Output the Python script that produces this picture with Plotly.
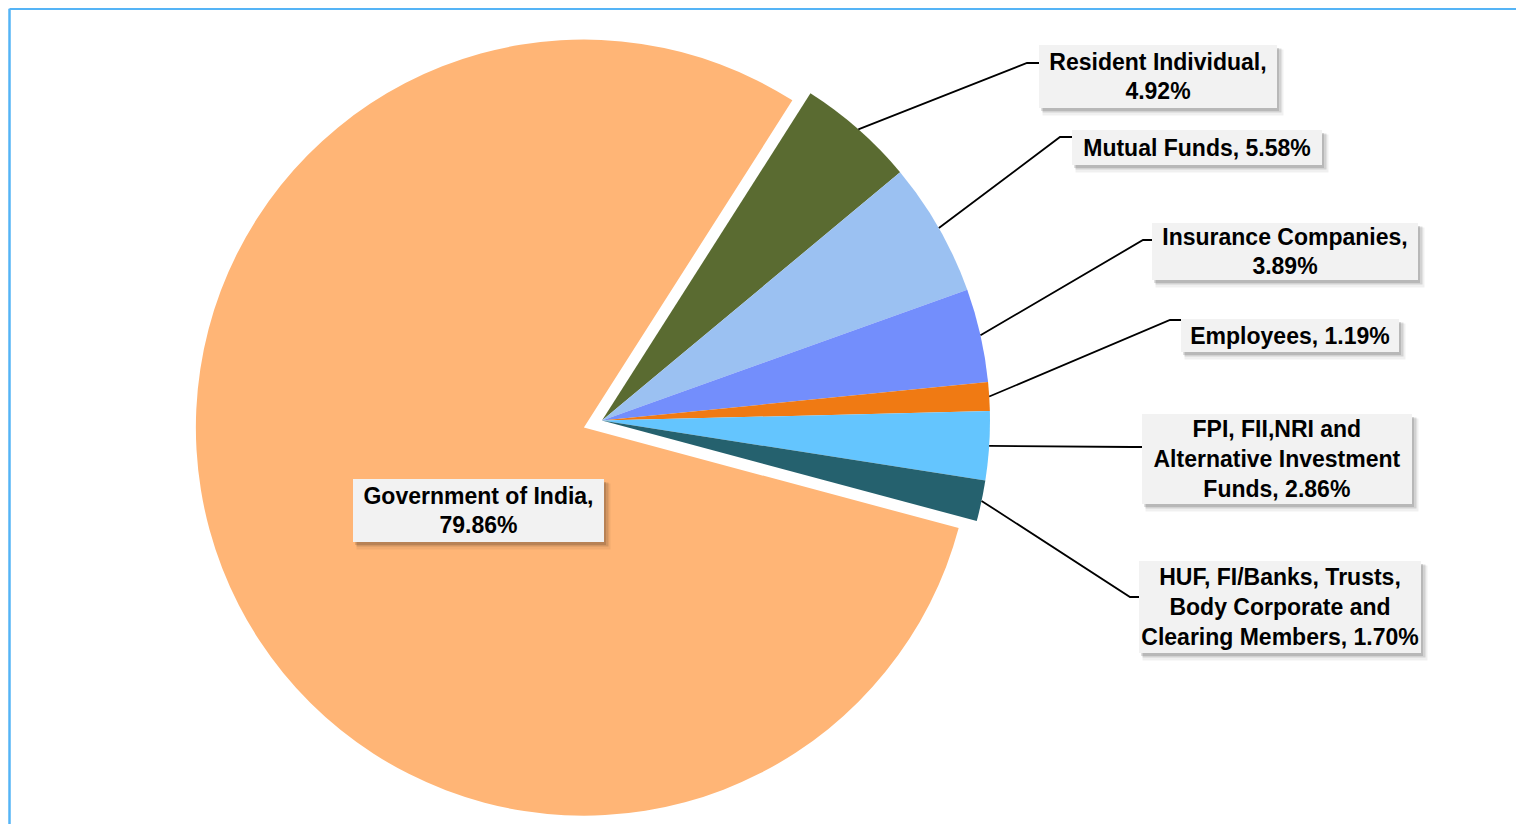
import math
import plotly.graph_objects as go

# ---------------- data ----------------
labels = [
    "Resident Individual",
    "Mutual Funds",
    "Insurance Companies",
    "Employees",
    "FPI, FII,NRI and Alternative Investment Funds",
    "HUF, FI/Banks, Trusts, Body Corporate and Clearing Members",
    "Government of India",
]
values = [4.92, 5.58, 3.89, 1.19, 2.86, 1.70, 79.86]
# label text (with the line breaks used in the chart); percentage appended from values
label_heads = [
    "Resident Individual,<br>",
    "Mutual Funds, ",
    "Insurance Companies,<br>",
    "Employees, ",
    "FPI, FII,NRI and<br>Alternative Investment<br>Funds, ",
    "HUF, FI/Banks, Trusts,<br>Body Corporate and<br>Clearing Members, ",
    "Government of India,<br>",
]
colors = ["#5A6B31", "#9BC1F2", "#738EFC", "#F07A13", "#64C5FE", "#25616E", "#FFB576"]
pulls = [0, 0, 0, 0, 0, 0, 0.05]

# ---------------- layout / geometry ----------------
OFF = 8          # page margin around the figure (screen px)
W, H = 1516, 820
dom_x = [0.0918, 0.6918]
dom_y = [0.0, 0.9937]
rotation = 32.5

# label boxes in screen pixels (centre x, centre y, box width, box height)
box_cx = [1158, 1197, 1285, 1290, 1277, 1280, 478.5]
box_cy = [76.5, 147.5, 251.5, 335.5, 459, 607, 510.5]
box_w = [238, 250, 266, 218, 270, 282, 251]
box_h = [63, 35, 57, 33, 90, 92, 63]
# leader line elbows (screen pixels) for the outside labels
elbow_x = [1027, 1060, 1143, 1170, 1132, 1130]
elbow_y = [63, 137, 240, 320, 447, 597]


def px(x):
    return (x - OFF) / W


def py(y):
    return 1 - (y - OFF) / H


fig = go.Figure()
fig.add_trace(go.Pie(
    labels=labels,
    values=values,
    sort=False,
    direction="clockwise",
    rotation=rotation,
    pull=pulls,
    marker=dict(colors=colors, line=dict(width=0)),
    textinfo="none",
    hoverinfo="label+percent",
    showlegend=False,
    domain=dict(x=dom_x, y=dom_y),
))

# pie geometry as plotly computes it (screen px)
box_wpx = W * (dom_x[1] - dom_x[0])
box_hpx = H * (dom_y[1] - dom_y[0])
r = min(box_wpx, box_hpx) / 2 / (1 + max(pulls))
cx = OFF + W * (dom_x[0] + dom_x[1]) / 2
cy = OFF + H * (1 - dom_y[0]) - box_hpx / 2
total = sum(values)

shapes = []
cum = 0.0
for i in range(6):
    mid = rotation + 360 * (cum + values[i] / 2) / total
    cum += values[i]
    t = math.radians(mid)
    ax_ = cx + r * math.sin(t)
    ay_ = cy - r * math.cos(t)
    bx = box_cx[i] - box_w[i] / 2
    path = "M {:.5f},{:.5f} L {:.5f},{:.5f} L {:.5f},{:.5f}".format(
        px(ax_), py(ay_), px(elbow_x[i]), py(elbow_y[i]), px(bx), py(elbow_y[i]))
    shapes.append(dict(type="path", xref="paper", yref="paper", path=path,
                       line=dict(color="black", width=1.8)))

# soft drop shadows behind the label boxes
for i in range(7):
    for (dx, dy, grow, col) in [(5, 6, 1.5, "rgba(0,0,0,0.06)"),
                                (4, 4, 0.5, "rgba(0,0,0,0.12)"),
                                (2, 3, 0, "rgba(0,0,0,0.12)")]:
        x0 = box_cx[i] - box_w[i] / 2 + dx - grow
        x1 = box_cx[i] + box_w[i] / 2 + dx + grow
        y0 = box_cy[i] - box_h[i] / 2 + dy - grow
        y1 = box_cy[i] + box_h[i] / 2 + dy + grow
        shapes.append(dict(type="rect", xref="paper", yref="paper", layer="above",
                           x0=px(x0), x1=px(x1), y0=py(y1), y1=py(y0),
                           fillcolor=col, line=dict(width=0)))

# light blue frame (top and left)
shapes.append(dict(type="line", xref="paper", yref="paper",
                   x0=px(9.5), y0=0.999, x1=1, y1=0.999,
                   line=dict(color="#55B4F6", width=2.5)))
shapes.append(dict(type="line", xref="paper", yref="paper",
                   x0=px(9.5), y0=0.999, x1=px(9.5), y1=0,
                   line=dict(color="#55B4F6", width=2.5)))

font = dict(family="Liberation Sans, Arial, sans-serif", size=23, color="black", weight="bold")
annotations = []
for i in range(7):
    txt = "{}{:.2f}%".format(label_heads[i], values[i])
    annotations.append(dict(
        x=px(box_cx[i]), y=py(box_cy[i]), xref="paper", yref="paper",
        text=txt, showarrow=False, xanchor="center", yanchor="middle",
        width=box_w[i], height=box_h[i], borderpad=0, borderwidth=0,
        bgcolor="#F2F2F2", font=font, align="center"))

fig.update_layout(
    width=W, height=H,
    margin=dict(l=0, r=0, t=0, b=0),
    paper_bgcolor="white",
    plot_bgcolor="white",
    shapes=shapes,
    annotations=annotations,
)

fig.write_html("out.html")
